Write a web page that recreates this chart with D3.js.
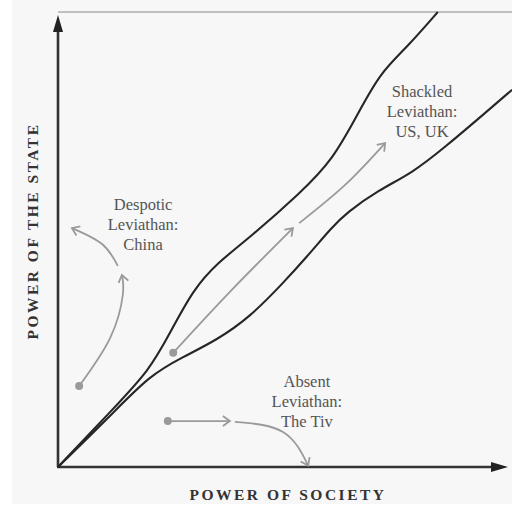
<!DOCTYPE html>
<html>
<head>
<meta charset="utf-8">
<script src="https://cdn.jsdelivr.net/npm/d3@7"></script>
<style>
  body { margin: 0; background: #fff; }
  text { font-family: "Liberation Serif", "DejaVu Serif", serif; }
  .lab { fill: #555; font-size: 16.5px; text-anchor: middle; }
  .axisTitle { fill: #333; font-size: 15.5px; font-weight: bold; letter-spacing: 2.5px; text-anchor: middle; }
</style>
</head>
<body>
<div id="chart"></div>
<script>
// Leviathan corridor >>>>>>>>>>>>>>>>>>>>>>>>>>>>>>>>
var width = 512,
  height = 506;

// power of society (x), power of the state (y), 0..100
var upperSociety = [0, 11.6, 20.4, 24.9, 30.0, 35.3, 42.7, 53.8, 61.1, 67.1, 71.6, 77.6, 84.4];
var upperState   = [0, 12.1, 21.3, 29.5, 38.9, 44.8, 50.5, 60.2, 67.5, 78.5, 86.6, 92.3, 100];
var lowerSociety = [0, 11.6, 20.4, 27.8, 35.3, 42.7, 50.0, 55.3, 60.9, 64.0, 71.3, 78.7, 86.0, 94.9, 100.9];
var lowerState   = [0, 11.2, 20.2, 24.2, 27.9, 33.0, 40.4, 46.2, 52.7, 55.8, 60.9, 64.6, 70.3, 77.8, 82.9];

// gray paths, one list of [society, state] per stroke
var despoticPaths = [
  [[4.7, 17.8], [11.6, 28.4], [14.4, 37.8], [14.2, 42.2]],
  [[13.3, 44.2], [9.8, 49.0], [3.1, 52.5]]
];
var shackledPaths = [
  [[25.6, 25.1], [38.2, 38.5], [52.2, 52.5]],
  [[53.6, 53.6], [63.8, 62.0], [72.7, 71.2]]
];
var absentPaths = [
  [[24.4, 10.1], [38.2, 10.1]],
  [[39.3, 9.9], [50.0, 7.7], [55.6, 0.3]]
];
var startDots = [[4.7, 17.8], [25.6, 25.1], [24.4, 10.1]];

var labels = [
  { lines: ["Despotic", "Leviathan:", "China"], at: [18.9, 56.5] },
  { lines: ["Shackled", "Leviathan:", "US, UK"], at: [80.9, 81.3] },
  { lines: ["Absent", "Leviathan:", "The Tiv"], at: [55.3, 17.6] }
];

var x = d3.scaleLinear().domain([0, 100]).range([58, 508]);
var y = d3.scaleLinear().domain([0, 100]).range([467, 12]);

var svg = d3
  .select("#chart")
  .append("svg")
  .attr("width", width)
  .attr("height", height);

svg.append("rect")
  .attr("x", 12).attr("y", 0)
  .attr("width", width - 12).attr("height", height - 2)
  .attr("fill", "#f7f7f7");

var defs = svg.append("defs");
defs.append("marker")
  .attr("id", "open")
  .attr("markerUnits", "userSpaceOnUse")
  .attr("viewBox", "-10 -6 12 12")
  .attr("refX", 0).attr("refY", 0)
  .attr("markerWidth", 12).attr("markerHeight", 12)
  .attr("orient", "auto")
  .append("path")
  .attr("d", "M-7,-5L0,0L-7,5")
  .attr("fill", "none")
  .attr("stroke", "#9a9a9a")
  .attr("stroke-width", 1.8);

// frame top
svg.append("line")
  .attr("x1", x(0)).attr("x2", width)
  .attr("y1", y(100)).attr("y2", y(100))
  .attr("stroke", "#8a8a8a").attr("stroke-width", 1.2);

// axes
svg.append("line")
  .attr("x1", x(0)).attr("x2", x(0))
  .attr("y1", y(0)).attr("y2", y(100) + 14)
  .attr("stroke", "#333").attr("stroke-width", 2.6);
svg.append("line")
  .attr("x1", x(0) - 1).attr("x2", x(100) - 12)
  .attr("y1", y(0)).attr("y2", y(0))
  .attr("stroke", "#333").attr("stroke-width", 2.6);
svg.append("path")
  .attr("d", "M" + x(0) + "," + (y(100) + 3) + "l-5,17h10z")
  .attr("fill", "#222");
svg.append("path")
  .attr("d", "M" + x(100) + "," + y(0) + "l-17,-5v10z")
  .attr("fill", "#222");

var edge = d3.line()
  .x(function (d) { return x(d[0]); })
  .y(function (d) { return y(d[1]); })
  .curve(d3.curveBasis);

var trail = d3.line()
  .x(function (d) { return x(d[0]); })
  .y(function (d) { return y(d[1]); })
  .curve(d3.curveNatural);

// corridor edges
[[upperSociety, upperState], [lowerSociety, lowerState]].forEach(function (s) {
  var pts = s[0].map(function (v, i) { return [v, s[1][i]]; });
  svg.append("path")
    .attr("d", edge(pts))
    .attr("fill", "none")
    .attr("stroke", "#262626")
    .attr("stroke-width", 2.1);
});

// gray trajectories
despoticPaths.concat(shackledPaths, absentPaths).forEach(function (p) {
  svg.append("path")
    .attr("d", trail(p))
    .attr("fill", "none")
    .attr("stroke", "#9a9a9a")
    .attr("stroke-width", 1.8)
    .attr("marker-end", "url(#open)");
});

svg.selectAll(".dot")
  .data(startDots)
  .enter()
  .append("circle")
  .attr("class", "dot")
  .attr("cx", function (d) { return x(d[0]); })
  .attr("cy", function (d) { return y(d[1]); })
  .attr("r", 4)
  .attr("fill", "#9a9a9a");

labels.forEach(function (l) {
  var t = svg.append("text")
    .attr("class", "lab")
    .attr("x", x(l.at[0]))
    .attr("y", y(l.at[1]));
  l.lines.forEach(function (s, i) {
    t.append("tspan")
      .attr("x", x(l.at[0]))
      .attr("dy", i === 0 ? 0 : 20)
      .text(s);
  });
});

svg.append("text")
  .attr("class", "axisTitle")
  .attr("x", 288)
  .attr("y", 500)
  .text("POWER OF SOCIETY");

svg.append("text")
  .attr("class", "axisTitle")
  .attr("transform", "translate(38,231) rotate(-90)")
  .text("POWER OF THE STATE");
</script>
</body>
</html>
